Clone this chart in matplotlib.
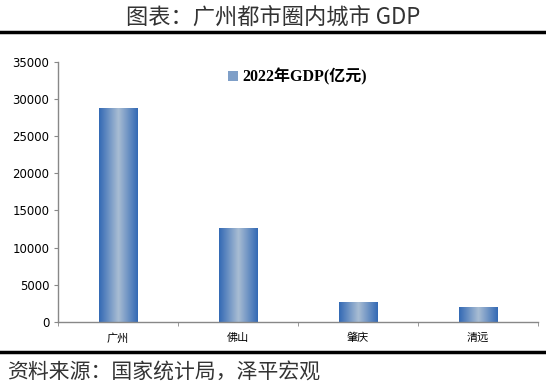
import matplotlib
matplotlib.use('Agg')
import matplotlib.pyplot as plt
from matplotlib.colors import LinearSegmentedColormap
from matplotlib.patches import Rectangle
import numpy as np

plt.rcParams['font.family'] = ['Noto Sans CJK SC', 'DejaVu Sans']

cities = ['广州', '佛山', '肇庆', '清远']
gdp_2022 = [28839, 12698, 2705, 2032]
series_name = '2022年GDP(亿元)'
yticks = [0, 5000, 10000, 15000, 20000, 25000, 30000, 35000]

fig = plt.figure(figsize=(5.46, 3.85), dpi=100)
ax = fig.add_axes([0.106, 0.164, 0.879, 0.675])

# gradient bars: dark blue edges, pale centre
cmap = LinearSegmentedColormap.from_list(
    'bar', ['#346ab5', '#a9bdd3', '#346ab5'])
grad = np.linspace(0, 1, 64).reshape(1, -1)
width = 0.32
x = np.arange(len(cities))
bars = ax.bar(x, gdp_2022, width=width, color='none', edgecolor='none')
for b in bars:
    x0, y0 = b.get_x(), b.get_y()
    w, h = b.get_width(), b.get_height()
    im = ax.imshow(grad, cmap=cmap, aspect='auto',
                   extent=[x0, x0 + w, y0, y0 + h], zorder=2)
    im.set_clip_path(b)

ax.set_xlim(-0.5, len(cities) - 0.5)
ax.set_ylim(0, 35000)
ax.set_yticks(yticks)
ax.set_yticklabels([str(t) for t in yticks], fontsize=8.5, family='DejaVu Sans')
ax.set_xticks(x)
ax.set_xticklabels(cities, fontsize=8)
ax.set_xticks(np.arange(-0.5, len(cities)), minor=True)
ax.tick_params(axis='x', which='major', length=0, pad=8)
ax.tick_params(axis='x', which='minor', length=3, color='#888888', direction='out')
ax.tick_params(axis='y', length=3, color='#888888', direction='out', pad=3)

for s in ['top', 'right']:
    ax.spines[s].set_visible(False)
for s in ['left', 'bottom']:
    ax.spines[s].set_color('#888888')
    ax.spines[s].set_linewidth(1)

# legend
leg_handle = Rectangle((0, 0), 1, 1, facecolor='#7f9fc8', edgecolor='none')
ax.legend([leg_handle], [series_name], loc='upper center',
          bbox_to_anchor=(0.5, 1.03), frameon=False, handlelength=0.6,
          handleheight=0.6, handletextpad=0.3,
          prop={'family': ['Liberation Serif', 'Noto Sans CJK SC'],
                'weight': 'bold', 'size': 11.5})

# title, rules and source
fig.text(0.5, 0.955, '图表：广州都市圈内城市 GDP', ha='center', va='center',
         fontsize=16, color='#333333')
fig.add_artist(plt.Line2D([0, 1], [0.917, 0.917], color='black', lw=2.5))
fig.add_artist(plt.Line2D([0, 1], [0.086, 0.086], color='black', lw=2.5))
fig.text(0.012, 0.033, '资料来源：国家统计局，泽平宏观', ha='left', va='center',
         fontsize=15, style='italic', color='#333333')

fig.savefig('out.png', dpi=100)
